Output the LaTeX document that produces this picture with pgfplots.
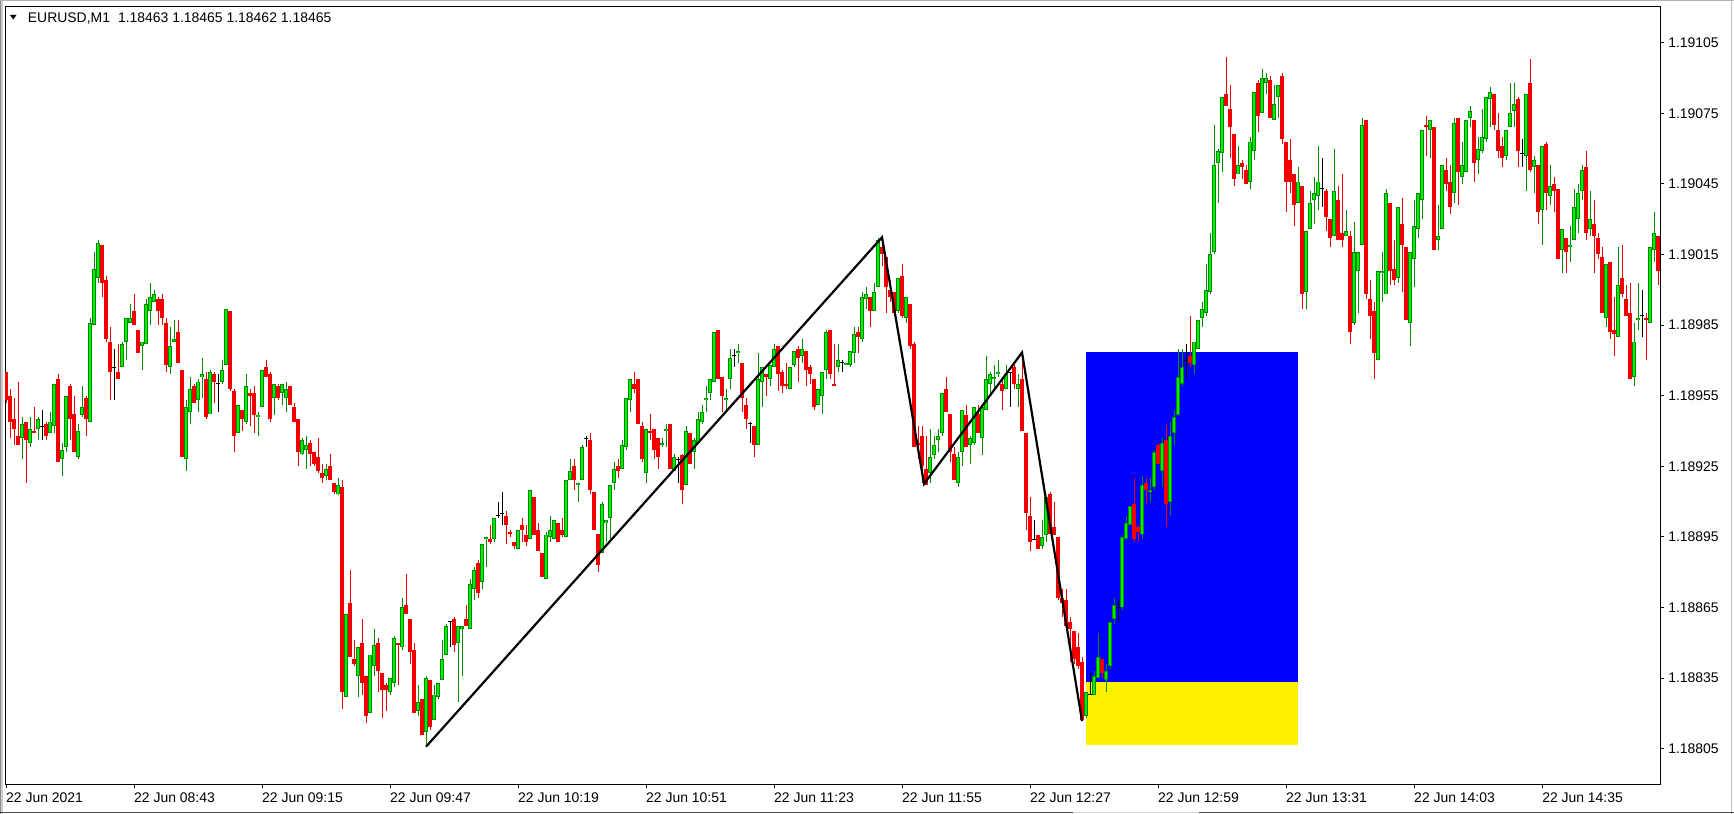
\documentclass[border=0pt]{standalone}
\usepackage{pgfplots}
\pgfplotsset{compat=1.18}
\usepackage{pgfplotstable}
\usepackage{fontspec}
\setmainfont{Liberation Sans}

\definecolor{bullfill}{RGB}{0,240,0}
\definecolor{bullline}{RGB}{0,140,0}
\definecolor{bearcol}{RGB}{240,0,0}

% prices in points above 1.18000 (965 = 1.18965), x = bar number
\pgfplotstableread[row sep=\\]{
i o h l c\\
4 937 946 928 943\\ 6 935 946 933 941\\ 8 941 946 936 945\\ 11 939 948 939 944\\ 12 942 960 939 960\\
14 928 935 921 932\\ 15 933 955 931 955\\ 18 929 943 928 940\\ 19 947 959 946 950\\ 21 944 988 944 986\\
22 985 1016 985 1009\\ 23 1005 1021 1003 1020\\ 29 967 978 967 977\\ 30 978 988 970 988\\ 31 986 994 986 988\\
34 976 978 966 978\\ 35 977 996 977 994\\ 36 991 1003 985 997\\ 37 995 1000 995 998\\ 41 967 984 964 976\\
42 978 987 978 979\\ 45 928 953 923 950\\ 46 948 963 943 958\\ 48 953 962 948 961\\ 49 963 971 954 964\\
51 947 966 947 965\\ 54 961 970 960 966\\ 55 968 992 968 992\\ 58 939 951 939 951\\ 60 944 964 943 959\\
63 946 948 938 947\\ 64 950 966 950 966\\ 67 954 960 947 960\\ 69 956 960 951 960\\ 70 954 961 948 958\\
74 930 937 930 936\\ 75 932 938 924 934\\ 80 921 926 919 924\\ 83 913 920 913 917\\ 85 827 862 827 862\\
88 836 848 827 848\\ 91 820 845 820 845\\ 92 840 856 836 849\\ 96 829 835 828 835\\ 97 833 853 831 852\\
99 848 869 847 865\\ 103 821 832 819 825\\ 105 812 836 806 835\\ 107 817 832 817 828\\ 108 827 833 826 833\\
109 834 851 834 843\\ 110 845 858 845 857\\ 113 850 857 825 857\\ 114 856 857 836 857\\ 116 856 877 856 875\\
117 873 882 868 881\\ 119 876 892 873 892\\ 120 894 895 882 895\\ 122 894 903 893 903\\ 128 890 898 890 898\\
131 894 915 894 915\\ 135 877 897 877 896\\ 136 895 904 893 898\\ 137 894 902 894 902\\ 140 895 919 895 919\\
141 919 928 919 923\\ 143 917 918 910 918\\ 144 919 934 919 933\\ 149 888 910 888 909\\ 150 901 902 893 902\\
151 903 917 894 917\\ 152 918 927 915 924\\ 154 924 936 924 934\\ 155 933 954 932 954\\ 156 953 962 948 962\\
160 922 941 918 941\\ 164 934 937 933 935\\ 165 940 943 933 941\\ 167 923 930 923 929\\ 170 917 942 917 940\\
172 931 937 924 936\\ 173 935 948 935 945\\ 174 944 951 943 948\\ 175 953 959 948 954\\ 176 956 962 953 962\\
177 961 982 961 982\\ 180 953 958 949 954\\ 181 962 975 958 971\\ 183 973 977 969 974\\ 188 934 973 934 962\\
189 961 967 950 967\\ 191 962 968 959 968\\ 192 967 977 967 975\\ 196 958 967 958 967\\ 197 968 974 967 974\\
199 972 979 969 975\\ 203 951 958 951 958\\ 204 955 965 947 965\\ 205 966 983 962 982\\ 208 967 977 965 970\\
210 968 969 968 969\\ 211 968 974 967 974\\ 212 973 984 969 981\\ 214 979 999 978 997\\ 215 996 1001 992 998\\
217 991 1003 991 999\\ 218 1001 1022 1001 1021\\ 223 991 1005 990 1005\\ 225 988 997 986 997\\ 231 922 941 918 929\\
232 930 938 928 934\\ 233 936 941 931 938\\ 234 939 956 938 956\\ 238 918 931 916 929\\ 239 931 949 925 949\\
241 934 938 926 937\\ 242 935 950 934 950\\ 244 937 950 930 950\\ 245 949 972 949 962\\ 246 960 965 956 964\\
247 962 968 958 963\\ 248 964 970 963 965\\ 250 958 968 958 964\\ 253 958 964 950 960\\ 259 891 902 890 895\\
260 896 912 893 912\\ 270 819 829 818 829\\ 272 828 838 828 836\\ 273 835 854 835 844\\ 275 834 841 829 838\\
276 840 859 839 859\\ 277 860 869 858 866\\ 279 865 896 864 895\\ 280 894 904 894 901\\ 281 900 908 900 908\\
284 896 921 894 917\\ 286 914 920 910 915\\ 287 916 932 915 931\\ 289 923 937 916 935\\ 291 910 944 904 938\\
292 939 949 934 946\\ 293 947 975 947 963\\ 294 960 975 959 967\\ 297 968 978 964 978\\ 298 975 987 975 987\\
299 988 995 984 992\\ 300 990 1011 989 1000\\ 301 999 1024 998 1015\\ 302 1016 1070 1015 1053\\ 303 1054 1060 1037 1059\\
304 1058 1082 1050 1082\\ 308 1049 1061 1049 1053\\ 311 1046 1065 1043 1063\\ 312 1059 1084 1055 1084\\ 314 1075 1094 1075 1090\\
315 1088 1092 1083 1090\\ 317 1072 1087 1072 1079\\ 318 1082 1087 1073 1087\\ 323 1037 1052 1037 1046\\ 325 999 1025 992 1025\\
326 1026 1042 1026 1037\\ 327 1038 1048 1028 1041\\ 328 1040 1061 1034 1046\\ 332 1023 1060 1023 1042\\ 335 1023 1034 1023 1025\\
337 986 1029 985 1016\\ 338 1008 1016 990 1016\\ 339 1019 1073 1019 1070\\ 343 970 1008 970 1008\\ 344 1007 1016 995 1008\\
345 998 1043 998 1041\\ 348 1005 1035 1003 1035\\ 351 986 1016 976 1016\\ 352 1013 1038 1001 1027\\ 353 1026 1041 1022 1041\\
354 1038 1068 1030 1068\\ 356 1068 1072 1056 1072\\ 358 1021 1036 1017 1023\\ 359 1026 1053 1026 1053\\ 362 1041 1073 1037 1071\\
364 1048 1063 1045 1053\\ 365 1050 1072 1050 1072\\ 366 1073 1078 1069 1076\\ 368 1055 1065 1049 1060\\ 369 1059 1077 1058 1065\\
370 1064 1082 1063 1082\\ 371 1081 1086 1069 1084\\ 375 1057 1068 1055 1068\\ 376 1069 1088 1069 1075\\ 377 1076 1088 1069 1079\\
380 1057 1083 1042 1083\\ 382 1052 1057 1041 1055\\ 384 1034 1061 1019 1061\\ 386 1040 1053 1036 1044\\ 389 1017 1026 1007 1026\\
391 1018 1027 1012 1019\\ 392 1021 1043 1021 1035\\ 393 1030 1045 1024 1041\\ 394 1042 1053 1038 1051\\ 396 1026 1042 1023 1030\\
400 988 1011 984 1011\\ 403 980 1018 980 1002\\ 407 963 986 959 978\\ 408 987 1003 983 988\\ 411 986 1018 986 1018\\
412 1017 1033 1012 1024\\
}\bull

\pgfplotstableread[row sep=\\]{
i o h l c\\
0 965 965 952 953\\ 1 955 958 937 944\\ 2 945 954 934 941\\ 3 938 961 934 934\\ 5 944 944 918 936\\
7 940 950 939 939\\ 10 943 944 936 938\\ 13 962 964 927 927\\ 16 959 960 936 945\\ 17 947 955 931 931\\
20 954 955 938 945\\ 24 1019 1019 997 1003\\ 25 1004 1006 978 979\\ 26 978 984 953 965\\ 28 965 977 962 962\\
32 991 998 985 985\\ 33 983 983 973 973\\ 38 996 997 985 991\\ 39 996 998 985 988\\ 40 986 988 965 968\\
43 982 987 969 969\\ 44 966 966 929 929\\ 47 959 960 952 952\\ 50 962 965 945 946\\ 52 964 965 952 961\\
56 991 991 957 958\\ 57 957 958 931 938\\ 59 949 949 940 945\\ 61 956 958 942 955\\ 62 956 959 939 947\\
65 967 970 963 963\\ 66 964 965 944 945\\ 68 959 960 953 954\\ 71 959 959 951 951\\ 72 950 952 944 944\\
73 945 945 925 931\\ 76 935 936 925 930\\ 77 931 931 925 926\\ 78 929 937 922 923\\ 79 922 926 918 920\\
81 925 930 919 919\\ 82 918 918 913 914\\ 84 916 919 822 829\\ 86 867 881 844 844\\ 87 843 851 840 841\\
89 850 860 828 833\\ 90 836 836 816 819\\ 93 850 852 829 838\\ 94 837 837 818 830\\ 95 832 833 821 830\\
98 850 850 832 849\\ 100 866 879 862 862\\ 101 860 860 841 846\\ 102 847 850 820 820\\ 104 826 826 811 811\\
106 834 834 813 814\\ 112 860 861 846 849\\ 115 860 866 857 857\\ 118 884 885 869 871\\ 121 894 900 892 893\\
125 904 906 892 900\\ 126 897 898 895 896\\ 127 893 893 890 891\\ 129 900 903 893 898\\ 130 896 900 891 893\\
132 912 912 896 896\\ 133 898 901 889 889\\ 134 888 888 878 878\\ 138 901 901 893 893\\ 139 898 903 895 896\\
142 925 928 915 919\\ 146 936 939 913 915\\ 147 914 914 898 898\\ 148 896 896 880 883\\ 153 925 928 920 923\\
157 960 965 956 958\\ 158 962 962 943 943\\ 159 942 944 927 928\\ 161 940 947 936 939\\ 162 941 941 928 932\\
163 937 937 924 929\\ 166 943 943 924 924\\ 169 930 930 909 915\\ 171 939 939 926 926\\ 178 983 983 962 962\\
179 963 963 948 955\\ 184 969 969 948 954\\ 185 951 954 941 945\\ 187 942 942 929 934\\ 190 964 964 955 963\\
193 976 976 957 964\\ 194 965 966 956 959\\ 195 960 969 958 959\\ 198 975 976 961 971\\ 200 974 974 959 966\\
201 967 968 960 964\\ 202 962 962 949 950\\ 206 983 983 962 964\\ 207 960 977 959 959\\ 213 982 984 973 980\\
216 997 997 984 991\\ 219 1018 1022 1010 1015\\ 220 1014 1014 990 1001\\ 221 1000 1004 995 997\\ 222 999 999 989 990\\
224 1006 1011 988 989\\ 226 994 994 975 976\\ 227 977 978 933 933\\ 228 935 942 928 934\\ 229 938 942 918 925\\
230 924 938 917 917\\ 235 958 963 948 948\\ 236 947 947 927 931\\ 237 930 933 919 919\\ 240 947 951 933 933\\
243 947 951 939 939\\ 249 960 963 949 957\\ 252 967 968 958 960\\ 254 962 973 940 940\\ 255 939 939 898 905\\
256 904 912 889 893\\ 258 896 896 890 890\\ 261 913 914 896 896\\ 262 899 910 896 896\\ 263 895 895 868 869\\
264 869 873 861 867\\ 265 868 873 857 857\\ 266 859 861 842 856\\ 267 855 855 841 843\\ 268 848 854 839 840\\
269 842 844 817 817\\ 274 843 843 835 837\\ 282 909 920 893 894\\ 283 899 900 893 897\\ 285 918 920 909 915\\
288 934 935 926 926\\ 290 936 943 899 909\\ 296 972 989 967 969\\ 305 1083 1099 1078 1078\\ 306 1077 1087 1056 1069\\
307 1066 1066 1044 1047\\ 309 1054 1055 1047 1052\\ 310 1051 1053 1045 1045\\ 313 1088 1089 1067 1074\\ 316 1089 1091 1073 1073\\
319 1091 1092 1062 1064\\ 320 1063 1063 1033 1046\\ 321 1055 1064 1041 1046\\ 322 1049 1049 1027 1036\\ 324 1044 1044 992 998\\
330 1042 1043 1025 1031\\ 331 1030 1030 1018 1022\\ 333 1038 1044 1021 1021\\ 334 1024 1049 1018 1021\\ 336 1023 1025 977 982\\
340 1072 1072 996 998\\ 341 996 1004 979 989\\ 342 991 995 962 973\\ 346 1037 1037 1002 1008\\ 347 1009 1021 1002 1004\\
349 1028 1039 999 1019\\ 350 1018 1018 987 987\\ 355 1070 1074 1057 1069\\ 357 1069 1069 1017 1017\\ 360 1051 1056 1042 1045\\
361 1046 1053 1032 1035\\ 363 1073 1073 1036 1050\\ 367 1072 1072 1046 1054\\ 372 1083 1083 1068 1070\\ 373 1068 1075 1056 1059\\
374 1061 1065 1052 1056\\ 378 1081 1082 1052 1059\\ 381 1088 1098 1050 1051\\ 383 1053 1053 1028 1033\\ 385 1062 1063 1034 1041\\
387 1045 1048 1033 1042\\ 388 1043 1043 1013 1013\\ 390 1022 1022 1007 1016\\ 395 1052 1059 1021 1024\\ 397 1028 1038 1007 1023\\
398 1022 1024 1013 1015\\ 399 1014 1018 990 990\\ 401 1012 1012 979 982\\ 402 983 997 972 981\\ 404 1005 1019 997 998\\
405 996 1002 989 989\\ 406 990 1003 962 962\\ 410 988 990 970 987\\ 413 1023 1023 1002 1008\\
}\bear

\pgfplotstableread[row sep=\\]{
i o h l c\\
9 942 949 936 942\\ 27 967 975 953 967\\ 53 960 964 948 960\\ 111 859 859 848 859\\ 123 904 910 903 904\\
124 905 914 900 905\\ 145 937 938 933 937\\ 168 928 929 918 928\\ 182 972 975 967 972\\ 186 943 944 935 943\\
209 969 970 965 969\\ 251 965 965 950 965\\ 257 894 902 894 894\\ 271 828 837 828 828\\ 278 865 868 859 865\\
295 970 977 962 970\\ 329 1043 1056 1035 1043\\ 379 1058 1064 1052 1058\\ 409 989 1000 980 989\\
}\doji

\begin{document}
\begin{tikzpicture}[x=1bp,y=1bp]
\useasboundingbox (0,0) rectangle (1734,-814);
\fill[white] (0,0) rectangle (1734,-814);
% window border
\draw[black!45, line width=1bp] (0.5,0) -- (0.5,-814);
\draw[black!20, line width=1.5bp] (2.2,0) -- (2.2,-814);
\draw[black!30, line width=1bp] (0,-0.5) -- (1734,-0.5);
\draw[black!25, line width=1bp] (1731.5,0) -- (1731.5,-814);
\draw[black!70, line width=1.2bp] (0,-812.7) -- (1073,-812.7);
\draw[black!70, line width=1.2bp] (1199,-812.7) -- (1734,-812.7);
\draw[black!15, line width=1.2bp] (1073,-812.7) -- (1199,-812.7);

\begin{axis}[
  at={(5bp,-784bp)}, anchor=south west,
  scale only axis, width=1655bp, height=777.8bp,
  xmin=-0.25, xmax=413.5, ymin=789.96, ymax=1120.5,
  axis line style={line width=1bp, black},
  xtick={0,32,...,384},
  xticklabels={22 Jun 2021,22 Jun 08:43,22 Jun 09:15,22 Jun 09:47,22 Jun 10:19,22 Jun 10:51,22 Jun 11:23,22 Jun 11:55,22 Jun 12:27,22 Jun 12:59,22 Jun 13:31,22 Jun 14:03,22 Jun 14:35},
  ytick={805,835,...,1105},
  yticklabels={1.18805,1.18835,1.18865,1.18895,1.18925,1.18955,1.18985,1.19015,1.19045,1.19075,1.19105},
  xtick pos=bottom, ytick pos=right,
  tick align=outside, major tick length=4bp,
  tick style={line width=1bp, black},
  tick label style={font=\fontsize{14}{16}\selectfont, inner sep=0pt, black},
  x tick label style={anchor=base west, yshift=-14bp},
  y tick label style={anchor=west, xshift=4bp},
  candle/.style={draw=none, mark=none, forget plot},
]
% rectangles
\addplot[fill=blue, draw=none, forget plot] coordinates {(270,833.3) (323,833.3) (323,973.6) (270,973.6)} -- cycle;
\addplot[fill=yellow, draw=none, forget plot] coordinates {(270,806.7) (323,806.7) (323,833.3) (270,833.3)} -- cycle;

% wicks
\addplot[candle, error bars/.cd, y dir=both, y explicit, error mark=none,
  error bar style={line width=1bp, draw=bullline}]
  table[x=i, y expr={(\thisrow{h}+\thisrow{l})/2}, y error expr={(\thisrow{h}-\thisrow{l})/2}] {\bull};
\addplot[candle, error bars/.cd, y dir=both, y explicit, error mark=none,
  error bar style={line width=1bp, draw=bearcol}]
  table[x=i, y expr={(\thisrow{h}+\thisrow{l})/2}, y error expr={(\thisrow{h}-\thisrow{l})/2}] {\bear};
\addplot[candle, error bars/.cd, y dir=both, y explicit, error mark=none,
  error bar style={line width=1bp, draw=black}]
  table[x=i, y expr={(\thisrow{h}+\thisrow{l})/2}, y error expr={(\thisrow{h}-\thisrow{l})/2}] {\doji};

% bodies
\addplot[candle, error bars/.cd, y dir=both, y explicit, error mark=none,
  error bar style={line width=3.2bp, draw=bullline}]
  table[x=i, y expr={(\thisrow{o}+\thisrow{c})/2}, y error expr={max(abs(\thisrow{c}-\thisrow{o})/2,0.3)}] {\bull};
\addplot[candle, error bars/.cd, y dir=both, y explicit, error mark=none,
  error bar style={line width=1.3bp, draw=bullfill}]
  table[x=i, y expr={(\thisrow{o}+\thisrow{c})/2}, y error expr={max(abs(\thisrow{c}-\thisrow{o})/2-0.4,0.1)}] {\bull};
\addplot[candle, error bars/.cd, y dir=both, y explicit, error mark=none,
  error bar style={line width=3.2bp, draw=bearcol}]
  table[x=i, y expr={(\thisrow{o}+\thisrow{c})/2}, y error expr={max(abs(\thisrow{c}-\thisrow{o})/2,0.3)}] {\bear};
\addplot[only marks, mark=-, mark size=2bp, black, mark options={line width=1bp}, forget plot]
  table[x=i, y=o] {\doji};

% zigzag
\addplot[black, line width=2.2bp, mark=none, forget plot] coordinates {
  (105,805.8) (219,1022.3) (229.5,917.5) (254,973.3) (269,816.7)
};
\end{axis}

% header
\fill[black] (10,-15) -- (16.5,-15) -- (13.25,-19.5) -- cycle;
\node[anchor=base west, inner sep=0pt, font=\fontsize{14}{16}\selectfont] at (27.7,-22.5)
  {EURUSD,M1\hspace{8bp}1.18463 1.18465 1.18462 1.18465};
\end{tikzpicture}
\end{document}
